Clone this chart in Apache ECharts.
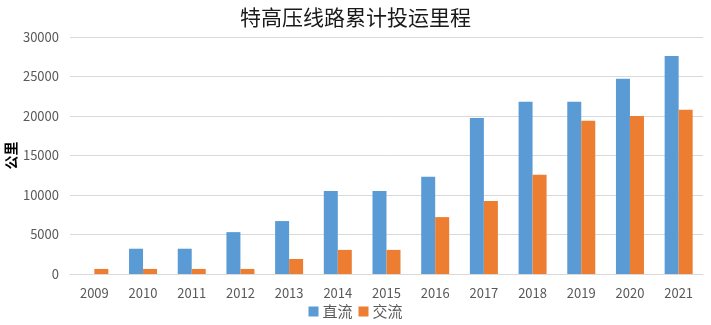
<!DOCTYPE html>
<html>
<head>
<meta charset="utf-8">
<script src="https://cdn.jsdelivr.net/npm/echarts@6/dist/echarts.min.js"></script>
<style>
  html, body { margin: 0; padding: 0; background: #fff; }
  #chart { width: 711px; height: 325px; }
</style>
</head>
<body>
<div id="chart"></div>
<script>
// Cumulative UHV transmission line length in operation (km)
const years = ['2009', '2010', '2011', '2012', '2013', '2014', '2015', '2016', '2017', '2018', '2019', '2020', '2021'];
const dcValues = [0, 3200, 3200, 5300, 6700, 10500, 10500, 12300, 19750, 21800, 21800, 24700, 27600];
const acValues = [640, 640, 640, 640, 1900, 3050, 3050, 7200, 9250, 12550, 19400, 20000, 20800];
const seriesNames = ['直流', '交流'];

const chart = echarts.init(document.getElementById('chart'));
const fontFamily = '"Noto Sans CJK SC", "Noto Sans", sans-serif';

chart.setOption({
  animation: false,
  textStyle: { fontFamily: fontFamily },
  title: {
    text: '特高压线路累计投运里程',
    left: 'center',
    top: 2,
    textStyle: { fontSize: 21, fontWeight: 'normal', color: '#1a1a1a', fontFamily: fontFamily }
  },
  legend: {
    data: seriesNames,
    bottom: 1,
    left: 'center',
    itemWidth: 10,
    itemHeight: 10,
    itemGap: 6,
    icon: 'rect',
    textStyle: { fontSize: 15, color: '#595959', padding: [0, 0, 0, -1] }
  },
  grid: { left: 70, right: 8, top: 37, bottom: 51, containLabel: false, outerBoundsMode: 'none' },
  xAxis: {
    type: 'category',
    data: years,
    axisLine: { lineStyle: { color: '#d9d9d9', width: 1 } },
    axisTick: { show: false },
    axisLabel: { color: '#595959', fontSize: 13, margin: 13 }
  },
  yAxis: {
    type: 'value',
    min: 0,
    max: 30000,
    interval: 5000,
    name: '公里',
    nameLocation: 'middle',
    nameGap: 52,
    nameMoveOverlap: false,
    nameRotate: 90,
    nameTextStyle: { fontSize: 14, fontWeight: 'bold', color: '#000' },
    axisLine: { show: false },
    axisTick: { show: false },
    axisLabel: { color: '#595959', fontSize: 13, margin: 11, formatter: (v) => String(v) },
    splitLine: { lineStyle: { color: '#d9d9d9', width: 1 } }
  },
  series: [
    {
      name: seriesNames[0],
      type: 'bar',
      data: dcValues,
      barWidth: 14,
      barGap: '0%',
      itemStyle: { color: '#5B9BD5' }
    },
    {
      name: seriesNames[1],
      type: 'bar',
      data: acValues,
      barWidth: 14,
      barGap: '0%',
      itemStyle: { color: '#ED7D31' }
    }
  ]
});
</script>
</body>
</html>
